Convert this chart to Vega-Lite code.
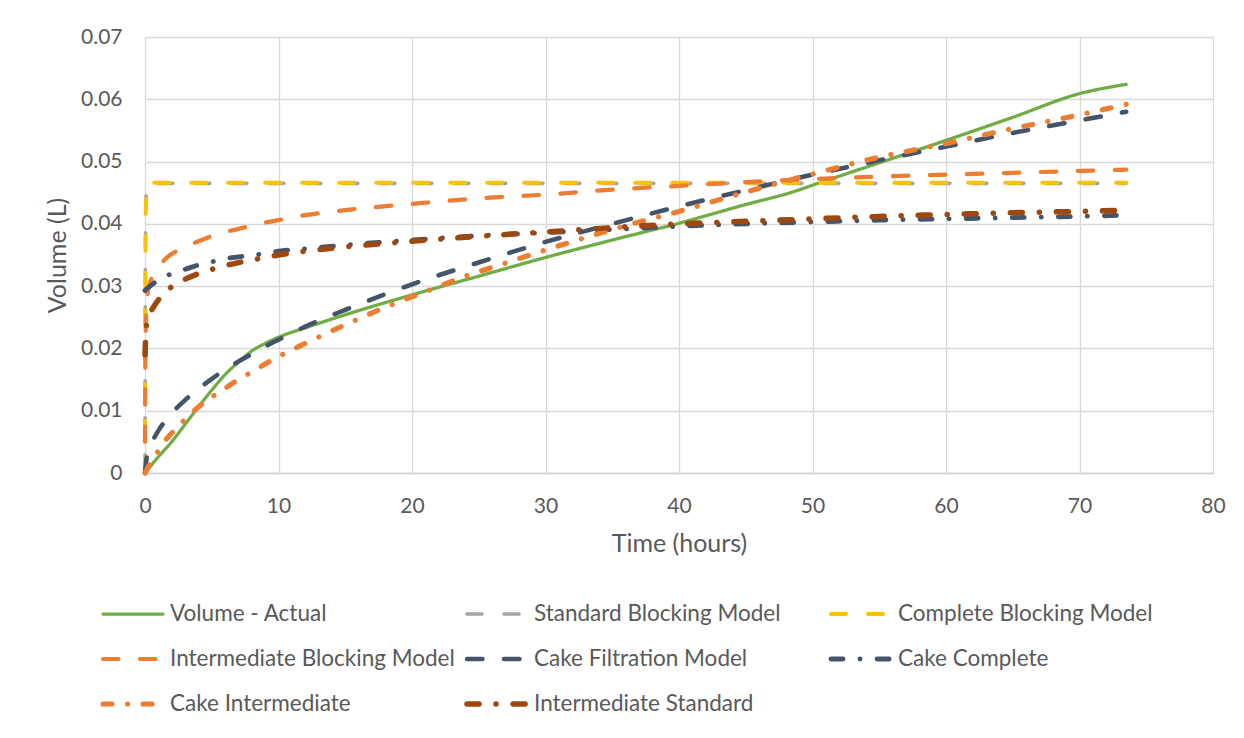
{
  "$schema": "https://vega.github.io/schema/vega-lite/v6.json",
  "width": 1068,
  "height": 436,
  "autosize": {"type": "none"},
  "padding": {"left": 145, "top": 37, "right": 31, "bottom": 265},
  "background": "white",
  "config": {
    "font": "Lato",
    "view": {"stroke": null},
    "axis": {
      "labelFont": "Lato",
      "labelFontSize": 21,
      "labelColor": "#595959",
      "titleFont": "Lato",
      "titleFontSize": 25,
      "titleFontWeight": "normal",
      "titleColor": "#595959",
      "gridColor": "#D9D9D9",
      "gridWidth": 1.3,
      "ticks": false,
      "labelFlush": false,
      "domainColor": "#D0D0D0",
      "domainWidth": 1.3
    }
  },
  "data": {
    "values": [
      {"s": "Volume - Actual", "t": 0, "v": 0},
      {"s": "Volume - Actual", "t": 1, "v": 0.0026},
      {"s": "Volume - Actual", "t": 2, "v": 0.005},
      {"s": "Volume - Actual", "t": 3, "v": 0.0078},
      {"s": "Volume - Actual", "t": 4, "v": 0.0106},
      {"s": "Volume - Actual", "t": 5, "v": 0.0133},
      {"s": "Volume - Actual", "t": 6, "v": 0.0158},
      {"s": "Volume - Actual", "t": 7, "v": 0.0178},
      {"s": "Volume - Actual", "t": 8, "v": 0.0196},
      {"s": "Volume - Actual", "t": 9, "v": 0.0208},
      {"s": "Volume - Actual", "t": 10, "v": 0.0218},
      {"s": "Volume - Actual", "t": 12, "v": 0.0233},
      {"s": "Volume - Actual", "t": 15, "v": 0.0254},
      {"s": "Volume - Actual", "t": 20, "v": 0.0286},
      {"s": "Volume - Actual", "t": 25, "v": 0.0316},
      {"s": "Volume - Actual", "t": 30, "v": 0.0346},
      {"s": "Volume - Actual", "t": 35, "v": 0.0374},
      {"s": "Volume - Actual", "t": 40, "v": 0.0401},
      {"s": "Volume - Actual", "t": 45, "v": 0.0431},
      {"s": "Volume - Actual", "t": 48.5, "v": 0.0451},
      {"s": "Volume - Actual", "t": 50, "v": 0.0462},
      {"s": "Volume - Actual", "t": 55, "v": 0.0498},
      {"s": "Volume - Actual", "t": 60, "v": 0.0534},
      {"s": "Volume - Actual", "t": 65, "v": 0.0571},
      {"s": "Volume - Actual", "t": 70, "v": 0.0609},
      {"s": "Volume - Actual", "t": 73.5, "v": 0.0624},

      {"s": "Standard Blocking Model", "t": 0, "v": 0.0005},
      {"s": "Standard Blocking Model", "t": 0.02, "v": 0.025},
      {"s": "Standard Blocking Model", "t": 0.05, "v": 0.04},
      {"s": "Standard Blocking Model", "t": 0.1, "v": 0.045},
      {"s": "Standard Blocking Model", "t": 0.3, "v": 0.0465},
      {"s": "Standard Blocking Model", "t": 1, "v": 0.0465},
      {"s": "Standard Blocking Model", "t": 73.5, "v": 0.0465},

      {"s": "Complete Blocking Model", "t": 0, "v": 0},
      {"s": "Complete Blocking Model", "t": 0.02, "v": 0.025},
      {"s": "Complete Blocking Model", "t": 0.05, "v": 0.04},
      {"s": "Complete Blocking Model", "t": 0.1, "v": 0.0452},
      {"s": "Complete Blocking Model", "t": 0.3, "v": 0.0466},
      {"s": "Complete Blocking Model", "t": 1, "v": 0.0466},
      {"s": "Complete Blocking Model", "t": 73.5, "v": 0.0466},

      {"s": "Intermediate Blocking Model", "t": 0, "v": 0.005},
      {"s": "Intermediate Blocking Model", "t": 0.02, "v": 0.015},
      {"s": "Intermediate Blocking Model", "t": 0.05, "v": 0.022},
      {"s": "Intermediate Blocking Model", "t": 0.1, "v": 0.026},
      {"s": "Intermediate Blocking Model", "t": 0.2, "v": 0.029},
      {"s": "Intermediate Blocking Model", "t": 0.4, "v": 0.0307},
      {"s": "Intermediate Blocking Model", "t": 0.8, "v": 0.0322},
      {"s": "Intermediate Blocking Model", "t": 1.5, "v": 0.0343},
      {"s": "Intermediate Blocking Model", "t": 2.5, "v": 0.0358},
      {"s": "Intermediate Blocking Model", "t": 4, "v": 0.0372},
      {"s": "Intermediate Blocking Model", "t": 5.5, "v": 0.0384},
      {"s": "Intermediate Blocking Model", "t": 7, "v": 0.0392},
      {"s": "Intermediate Blocking Model", "t": 8.5, "v": 0.04},
      {"s": "Intermediate Blocking Model", "t": 10, "v": 0.0406},
      {"s": "Intermediate Blocking Model", "t": 12, "v": 0.0414},
      {"s": "Intermediate Blocking Model", "t": 15, "v": 0.0422},
      {"s": "Intermediate Blocking Model", "t": 20, "v": 0.0432},
      {"s": "Intermediate Blocking Model", "t": 25, "v": 0.0441},
      {"s": "Intermediate Blocking Model", "t": 30, "v": 0.0447},
      {"s": "Intermediate Blocking Model", "t": 35, "v": 0.0455},
      {"s": "Intermediate Blocking Model", "t": 40, "v": 0.0461},
      {"s": "Intermediate Blocking Model", "t": 45, "v": 0.0467},
      {"s": "Intermediate Blocking Model", "t": 50, "v": 0.0472},
      {"s": "Intermediate Blocking Model", "t": 55, "v": 0.0476},
      {"s": "Intermediate Blocking Model", "t": 60, "v": 0.0479},
      {"s": "Intermediate Blocking Model", "t": 65, "v": 0.0482},
      {"s": "Intermediate Blocking Model", "t": 70, "v": 0.0485},
      {"s": "Intermediate Blocking Model", "t": 73.5, "v": 0.0487},

      {"s": "Cake Filtration Model", "t": 0, "v": 0},
      {"s": "Cake Filtration Model", "t": 0.1, "v": 0.0021},
      {"s": "Cake Filtration Model", "t": 0.25, "v": 0.0034},
      {"s": "Cake Filtration Model", "t": 0.5, "v": 0.0048},
      {"s": "Cake Filtration Model", "t": 1, "v": 0.0068},
      {"s": "Cake Filtration Model", "t": 1.5, "v": 0.0083},
      {"s": "Cake Filtration Model", "t": 2, "v": 0.0096},
      {"s": "Cake Filtration Model", "t": 3, "v": 0.0117},
      {"s": "Cake Filtration Model", "t": 4, "v": 0.0135},
      {"s": "Cake Filtration Model", "t": 5, "v": 0.0151},
      {"s": "Cake Filtration Model", "t": 6, "v": 0.0166},
      {"s": "Cake Filtration Model", "t": 7, "v": 0.0179},
      {"s": "Cake Filtration Model", "t": 8, "v": 0.0191},
      {"s": "Cake Filtration Model", "t": 9, "v": 0.0203},
      {"s": "Cake Filtration Model", "t": 10, "v": 0.0214},
      {"s": "Cake Filtration Model", "t": 12, "v": 0.0235},
      {"s": "Cake Filtration Model", "t": 15, "v": 0.0262},
      {"s": "Cake Filtration Model", "t": 20, "v": 0.0303},
      {"s": "Cake Filtration Model", "t": 25, "v": 0.0338},
      {"s": "Cake Filtration Model", "t": 30, "v": 0.0371},
      {"s": "Cake Filtration Model", "t": 35, "v": 0.04},
      {"s": "Cake Filtration Model", "t": 40, "v": 0.0428},
      {"s": "Cake Filtration Model", "t": 45, "v": 0.0454},
      {"s": "Cake Filtration Model", "t": 50, "v": 0.0479},
      {"s": "Cake Filtration Model", "t": 55, "v": 0.0502},
      {"s": "Cake Filtration Model", "t": 60, "v": 0.0524},
      {"s": "Cake Filtration Model", "t": 65, "v": 0.0546},
      {"s": "Cake Filtration Model", "t": 70, "v": 0.0566},
      {"s": "Cake Filtration Model", "t": 73.5, "v": 0.058},

      {"s": "Cake Complete", "t": 0, "v": 0.0293},
      {"s": "Cake Complete", "t": 0.2, "v": 0.0297},
      {"s": "Cake Complete", "t": 0.5, "v": 0.0302},
      {"s": "Cake Complete", "t": 1, "v": 0.031},
      {"s": "Cake Complete", "t": 2, "v": 0.032},
      {"s": "Cake Complete", "t": 3, "v": 0.0327},
      {"s": "Cake Complete", "t": 4, "v": 0.0334},
      {"s": "Cake Complete", "t": 5, "v": 0.0339},
      {"s": "Cake Complete", "t": 6, "v": 0.0344},
      {"s": "Cake Complete", "t": 7, "v": 0.0347},
      {"s": "Cake Complete", "t": 8.5, "v": 0.0351},
      {"s": "Cake Complete", "t": 10, "v": 0.0356},
      {"s": "Cake Complete", "t": 12, "v": 0.036},
      {"s": "Cake Complete", "t": 15, "v": 0.0366},
      {"s": "Cake Complete", "t": 20, "v": 0.0374},
      {"s": "Cake Complete", "t": 25, "v": 0.0381},
      {"s": "Cake Complete", "t": 30, "v": 0.0386},
      {"s": "Cake Complete", "t": 35, "v": 0.0391},
      {"s": "Cake Complete", "t": 40, "v": 0.0396},
      {"s": "Cake Complete", "t": 45, "v": 0.04},
      {"s": "Cake Complete", "t": 50, "v": 0.0403},
      {"s": "Cake Complete", "t": 55, "v": 0.0406},
      {"s": "Cake Complete", "t": 60, "v": 0.0408},
      {"s": "Cake Complete", "t": 65, "v": 0.041},
      {"s": "Cake Complete", "t": 70, "v": 0.0412},
      {"s": "Cake Complete", "t": 73.5, "v": 0.0414},

      {"s": "Cake Intermediate", "t": 0, "v": 0},
      {"s": "Cake Intermediate", "t": 0.3, "v": 0.0012},
      {"s": "Cake Intermediate", "t": 0.7, "v": 0.0025},
      {"s": "Cake Intermediate", "t": 1.25, "v": 0.0045},
      {"s": "Cake Intermediate", "t": 2, "v": 0.0064},
      {"s": "Cake Intermediate", "t": 3, "v": 0.0086},
      {"s": "Cake Intermediate", "t": 4, "v": 0.0106},
      {"s": "Cake Intermediate", "t": 5, "v": 0.0122},
      {"s": "Cake Intermediate", "t": 6, "v": 0.0136},
      {"s": "Cake Intermediate", "t": 7, "v": 0.015},
      {"s": "Cake Intermediate", "t": 8, "v": 0.0162},
      {"s": "Cake Intermediate", "t": 9, "v": 0.0175},
      {"s": "Cake Intermediate", "t": 10, "v": 0.0187},
      {"s": "Cake Intermediate", "t": 12, "v": 0.0208},
      {"s": "Cake Intermediate", "t": 15, "v": 0.0238},
      {"s": "Cake Intermediate", "t": 18, "v": 0.0266},
      {"s": "Cake Intermediate", "t": 21, "v": 0.0291},
      {"s": "Cake Intermediate", "t": 24, "v": 0.0316},
      {"s": "Cake Intermediate", "t": 27, "v": 0.0337},
      {"s": "Cake Intermediate", "t": 30, "v": 0.0358},
      {"s": "Cake Intermediate", "t": 33, "v": 0.0378},
      {"s": "Cake Intermediate", "t": 36, "v": 0.0397},
      {"s": "Cake Intermediate", "t": 40, "v": 0.042},
      {"s": "Cake Intermediate", "t": 45, "v": 0.0451},
      {"s": "Cake Intermediate", "t": 50, "v": 0.048},
      {"s": "Cake Intermediate", "t": 55, "v": 0.0507},
      {"s": "Cake Intermediate", "t": 60, "v": 0.0529},
      {"s": "Cake Intermediate", "t": 65, "v": 0.0553},
      {"s": "Cake Intermediate", "t": 70, "v": 0.0575},
      {"s": "Cake Intermediate", "t": 73.5, "v": 0.0592},

      {"s": "Intermediate Standard", "t": 0, "v": 0.019},
      {"s": "Intermediate Standard", "t": 0.1, "v": 0.0235},
      {"s": "Intermediate Standard", "t": 0.3, "v": 0.0252},
      {"s": "Intermediate Standard", "t": 0.6, "v": 0.0265},
      {"s": "Intermediate Standard", "t": 1, "v": 0.0278},
      {"s": "Intermediate Standard", "t": 1.5, "v": 0.029},
      {"s": "Intermediate Standard", "t": 2, "v": 0.0299},
      {"s": "Intermediate Standard", "t": 3, "v": 0.0311},
      {"s": "Intermediate Standard", "t": 4, "v": 0.032},
      {"s": "Intermediate Standard", "t": 5, "v": 0.0327},
      {"s": "Intermediate Standard", "t": 6.4, "v": 0.0335},
      {"s": "Intermediate Standard", "t": 8, "v": 0.0342},
      {"s": "Intermediate Standard", "t": 10, "v": 0.035},
      {"s": "Intermediate Standard", "t": 12, "v": 0.0356},
      {"s": "Intermediate Standard", "t": 15, "v": 0.0363},
      {"s": "Intermediate Standard", "t": 20, "v": 0.0372},
      {"s": "Intermediate Standard", "t": 25, "v": 0.038},
      {"s": "Intermediate Standard", "t": 30, "v": 0.0387},
      {"s": "Intermediate Standard", "t": 35, "v": 0.0394},
      {"s": "Intermediate Standard", "t": 40, "v": 0.04},
      {"s": "Intermediate Standard", "t": 45, "v": 0.0404},
      {"s": "Intermediate Standard", "t": 50, "v": 0.0408},
      {"s": "Intermediate Standard", "t": 55, "v": 0.0412},
      {"s": "Intermediate Standard", "t": 60, "v": 0.0415},
      {"s": "Intermediate Standard", "t": 65, "v": 0.0418},
      {"s": "Intermediate Standard", "t": 70, "v": 0.042},
      {"s": "Intermediate Standard", "t": 73.5, "v": 0.0422}
    ]
  },
  "mark": {"type": "line", "interpolate": "monotone", "strokeCap": "round", "strokeJoin": "round"},
  "encoding": {
    "x": {
      "field": "t",
      "type": "quantitative",
      "scale": {"domain": [0, 80], "nice": false},
      "axis": {"title": "Time (hours)", "values": [0, 10, 20, 30, 40, 50, 60, 70, 80], "labelPadding": 22, "titlePadding": 15}
    },
    "y": {
      "field": "v",
      "type": "quantitative",
      "scale": {"domain": [0, 0.07], "nice": false},
      "axis": {"title": "Volume (L)", "values": [0, 0.01, 0.02, 0.03, 0.04, 0.05, 0.06, 0.07], "format": "~g", "labelPadding": 23, "titlePadding": 10, "domain": false}
    },
    "color": {
      "field": "s",
      "type": "nominal",
      "sort": null,
      "scale": {
        "domain": ["Volume - Actual", "Standard Blocking Model", "Complete Blocking Model", "Intermediate Blocking Model", "Cake Filtration Model", "Cake Complete", "Cake Intermediate", "Intermediate Standard"],
        "range": ["#70AD47", "#A5A5A5", "#FFC000", "#ED7D31", "#44546A", "#44546A", "#ED7D31", "#9E480E"]
      },
      "legend": {
        "title": null,
        "orient": "none",
        "direction": "horizontal",
        "legendX": -45,
        "legendY": 565,
        "columns": 3,
        "gridAlign": "all",
        "symbolType": "stroke",
        "symbolSize": 3600,
        "clipHeight": 24,
        "rowPadding": 21,
        "columnPadding": 9,
        "labelFont": "Lato",
        "labelFontSize": 22.5,
        "labelColor": "#595959",
        "labelOffset": 4,
        "labelLimit": 400,
        "padding": 0,
        "encode": {"symbols": {"update": {"strokeCap": {"value": "round"}}}}
      }
    },
    "strokeDash": {
      "field": "s",
      "type": "nominal",
      "sort": null,
      "scale": {
        "domain": ["Volume - Actual", "Standard Blocking Model", "Complete Blocking Model", "Intermediate Blocking Model", "Cake Filtration Model", "Cake Complete", "Cake Intermediate", "Intermediate Standard"],
        "range": [[1, 0], [15, 22], [15, 22], [15.5, 21.5], [15.5, 21.5], [12, 17, 0.1, 17], [9, 15.5, 0.1, 15.5], [12, 17, 0.1, 17]]
      }
    },
    "strokeWidth": {
      "field": "s",
      "type": "nominal",
      "sort": null,
      "scale": {
        "domain": ["Volume - Actual", "Standard Blocking Model", "Complete Blocking Model", "Intermediate Blocking Model", "Cake Filtration Model", "Cake Complete", "Cake Intermediate", "Intermediate Standard"],
        "range": [3.25, 5.5, 5.5, 5, 5, 3.25, 3, 3]
      }
    }
  }
}
